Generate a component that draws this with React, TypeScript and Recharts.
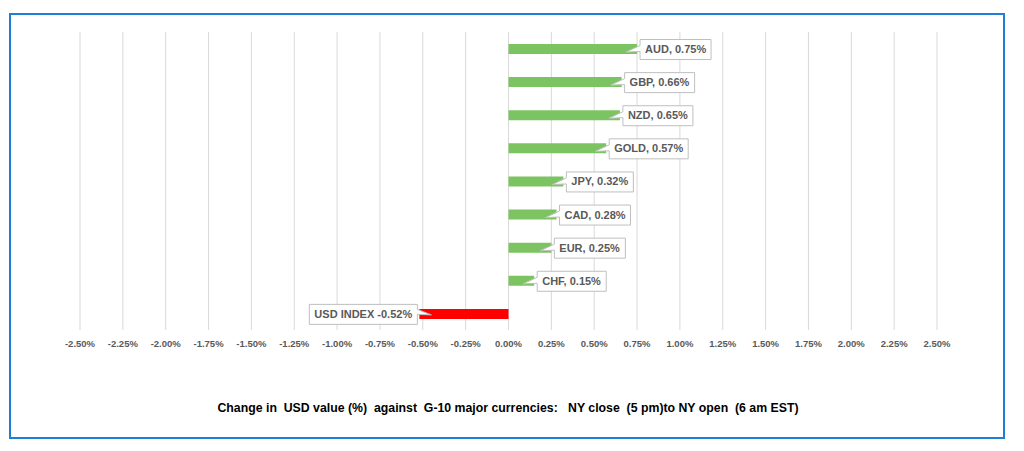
import { BarChart, Bar, XAxis, YAxis, CartesianGrid, Cell, LabelList } from "recharts";

const currencies = ["AUD", "GBP", "NZD", "GOLD", "JPY", "CAD", "EUR", "CHF", "USD INDEX"];
const changes = [0.75, 0.66, 0.65, 0.57, 0.32, 0.28, 0.25, 0.15, -0.52];
const xTicks = [-2.5, -2.25, -2, -1.75, -1.5, -1.25, -1, -0.75, -0.5, -0.25, 0, 0.25, 0.5, 0.75, 1, 1.25, 1.5, 1.75, 2, 2.25, 2.5];
const title = "Change in  USD value (%)  against  G-10 major currencies:   NY close  (5 pm)to NY open  (6 am EST)";

const data = currencies.map((name, i) => ({ name, value: changes[i] }));

const FONT = "'Liberation Sans', Arial, sans-serif";
const LABEL_FONT = `bold 11px ${FONT}`;

let ctx: CanvasRenderingContext2D | null = null;
function textWidth(s: string) {
  if (!ctx) ctx = document.createElement("canvas").getContext("2d");
  if (!ctx) return s.length * 6;
  ctx.font = LABEL_FONT;
  return ctx.measureText(s).width;
}

function labelText(i: number) {
  const v = changes[i].toFixed(2) + "%";
  return i === currencies.length - 1 ? `${currencies[i]} ${v}` : `${currencies[i]}, ${v}`;
}

// excel-style wedge callout next to the bar end
function Callout(props: any) {
  const { x, y, width, height, index, value } = props;
  const cy = y + height / 2;
  const text = labelText(index);
  const w = Math.round(textWidth(text) + 10);
  const h = 20;
  const top = cy - 9.5;
  const bottom = top + h;
  let path: string;
  let tx: number;
  if (value >= 0) {
    const end = Math.max(x, x + width);
    const left = end + 3;
    const right = left + w;
    tx = left + 5;
    path = `M${left},${top} H${right} V${bottom} H${left} V${top + 12} L${end - 11},${cy + 3} L${left},${top + 6} Z`;
  } else {
    const end = Math.min(x, x + width);
    const right = end - 2;
    const left = right - w;
    tx = left + 5;
    path = `M${left},${top} H${right} V${top + 5} L${end + 12},${cy + 1} L${right},${top + 10} V${bottom} H${left} Z`;
  }
  return (
    <g>
      <path d={path} fill="#ffffff" stroke="#bfbfbf" strokeWidth={1} />
      <text x={tx} y={cy + 4} fontFamily={FONT} fontSize={11} fontWeight="bold" fill="#595959">
        {text}
      </text>
    </g>
  );
}

export default function App() {
  return (
    <div style={{ position: "absolute", left: 0, top: 0, width: 1024, height: 451, background: "#ffffff" }}>
      <div
        style={{
          position: "absolute",
          left: 9,
          top: 13,
          width: 996,
          height: 426,
          border: "2px solid #1f7fd4",
          boxSizing: "border-box",
        }}
      />
      <div style={{ position: "absolute", left: 0, top: 0 }}>
        <BarChart
          width={1024}
          height={451}
          data={data}
          layout="vertical"
          margin={{ top: 32, right: 87, left: 80, bottom: 91 }}
          barCategoryGap={0}
        >
          <CartesianGrid horizontal={false} stroke="#d9d9d9" />
          <XAxis
            type="number"
            domain={[-2.5, 2.5]}
            ticks={xTicks}
            height={30}
            axisLine={false}
            tickLine={false}
            interval={0}
            tickMargin={4}
            tickFormatter={(v: number) => v.toFixed(2) + "%"}
            tick={{ fontSize: 9.5, fill: "#595959", fontFamily: FONT, fontWeight: "bold" }}
          />
          <YAxis type="category" dataKey="name" hide width={0} />
          <Bar dataKey="value" barSize={10} isAnimationActive={false}>
            {data.map((d, i) => (
              <Cell key={i} fill={d.value < 0 ? "#ff0000" : "#7cc462"} />
            ))}
            <LabelList dataKey="value" content={<Callout />} />
          </Bar>
        </BarChart>
      </div>
      <div
        style={{
          position: "absolute",
          left: 0,
          width: 1024,
          top: 401,
          textAlign: "center",
          fontFamily: FONT,
          fontWeight: "bold",
          fontSize: 12.3,
          color: "#000000",
          whiteSpace: "pre",
          paddingRight: 8,
          boxSizing: "border-box",
        }}
      >
        {title}
      </div>
    </div>
  );
}
